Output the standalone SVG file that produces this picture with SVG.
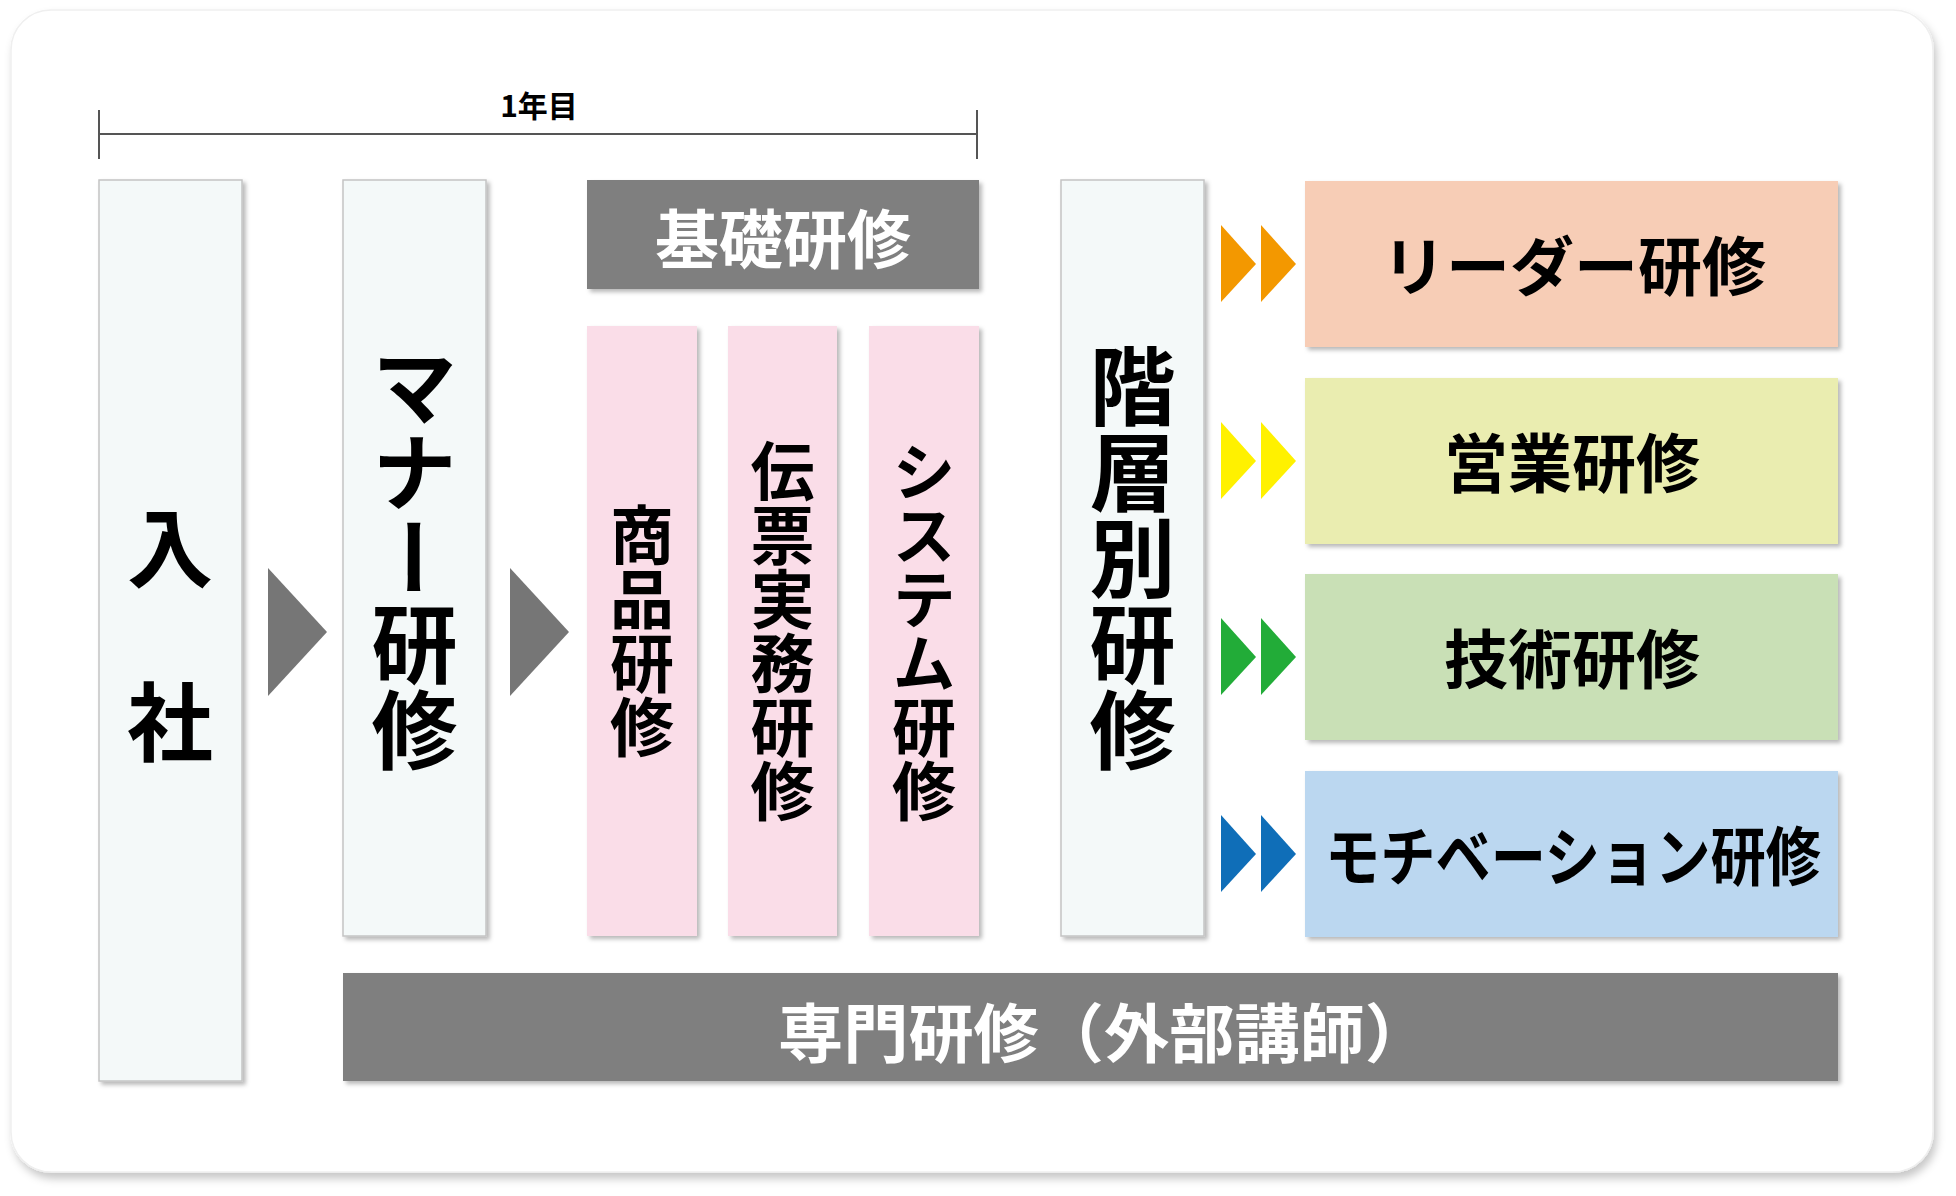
<svg xmlns="http://www.w3.org/2000/svg" width="1956" height="1196" viewBox="0 0 1956 1196">
  <defs>
    <filter id="cardShadow" x="-5%" y="-5%" width="110%" height="115%">
      <feDropShadow dx="3" dy="6" stdDeviation="4" flood-color="#000" flood-opacity="0.22"/>
    </filter>
    <filter id="boxShadow" x="-10%" y="-10%" width="125%" height="125%">
      <feDropShadow dx="3" dy="3" stdDeviation="2" flood-color="#000" flood-opacity="0.28"/>
    </filter>
    <style>
      .jp { font-family: "Noto Sans CJK JP", "Noto Sans", sans-serif; font-weight: bold; }
      .light { fill: #F4F9F9; stroke: #C4C4C4; stroke-width: 1.5; }
      .pink { fill: #FADDE8; }
      .gray { fill: #7F7F7F; }
      .vt { writing-mode: vertical-rl; text-orientation: mixed; text-anchor: middle; fill: #000; }
      .ht { text-anchor: middle; dominant-baseline: central; }
      .tick { stroke: #555; stroke-width: 2; fill: none; }
    </style>
  </defs>

  <rect x="0" y="0" width="1956" height="1196" fill="#FFFFFF"/>
  <!-- card -->
  <rect x="11" y="10" width="1922" height="1162" rx="40" ry="40" fill="#FFFFFF" stroke="#EFEFEF" stroke-width="1.5" filter="url(#cardShadow)"/>

  <!-- 1年目 span -->
  <g id="span-1year">
    <line class="tick" x1="99" y1="134" x2="977" y2="134"/>
    <line class="tick" x1="99" y1="110" x2="99" y2="159"/>
    <line class="tick" x1="977" y1="110" x2="977" y2="159"/>
    <text class="jp ht" x="539" y="104" font-size="30" fill="#000">1年目</text>
  </g>

  <g id="node-nyusha">
    <rect class="light" x="99" y="180" width="143" height="901" filter="url(#boxShadow)"/>
    <text class="jp ht" x="170" y="543" font-size="86" fill="#000">入</text>
    <text class="jp ht" x="170" y="717" font-size="86" fill="#000">社</text>
  </g>

  <g id="node-manner">
    <rect class="light" x="343" y="180" width="143" height="756" filter="url(#boxShadow)"/>
    <text class="jp vt" x="414.5" y="558" font-size="86">マナー研修</text>
  </g>

  <g id="node-kiso">
    <rect class="gray" x="587" y="180" width="392" height="109" filter="url(#boxShadow)"/>
    <text class="jp ht" x="783" y="235" font-size="64" fill="#FFFFFF">基礎研修</text>
  </g>

  <g id="node-shohin">
    <rect class="pink" x="587" y="326" width="110" height="610" filter="url(#boxShadow)"/>
    <text class="jp vt" x="642" y="631" font-size="64">商品研修</text>
  </g>
  <g id="node-denpyo">
    <rect class="pink" x="728" y="326" width="109" height="610" filter="url(#boxShadow)"/>
    <text class="jp vt" x="782.5" y="631" font-size="64">伝票実務研修</text>
  </g>
  <g id="node-system">
    <rect class="pink" x="869" y="326" width="110" height="610" filter="url(#boxShadow)"/>
    <text class="jp vt" x="924" y="631" font-size="64">システム研修</text>
  </g>

  <g id="node-kaisou">
    <rect class="light" x="1061" y="180" width="143" height="756" filter="url(#boxShadow)"/>
    <text class="jp vt" x="1132.5" y="558" font-size="86">階層別研修</text>
  </g>

  <g id="node-leader">
    <rect x="1305" y="181" width="533" height="166" fill="#F7CDB6" filter="url(#boxShadow)"/>
    <text class="jp ht" x="1574" y="262" font-size="64" fill="#000">リーダー研修</text>
  </g>
  <g id="node-eigyo">
    <rect x="1305" y="378" width="533" height="166" fill="#EAEDB0" filter="url(#boxShadow)"/>
    <text class="jp ht" x="1572" y="459" font-size="64" fill="#000">営業研修</text>
  </g>
  <g id="node-gijutsu">
    <rect x="1305" y="574" width="533" height="166" fill="#C9E0B6" filter="url(#boxShadow)"/>
    <text class="jp ht" x="1572" y="655" font-size="64" fill="#000">技術研修</text>
  </g>
  <g id="node-motivation">
    <rect x="1305" y="771" width="533" height="166" fill="#BBD7F0" filter="url(#boxShadow)"/>
    <text class="jp ht" x="1573" y="852" font-size="64" fill="#000" textLength="496" lengthAdjust="spacingAndGlyphs">モチベーション研修</text>
  </g>

  <g id="node-senmon">
    <rect class="gray" x="343" y="973" width="1495" height="108" filter="url(#boxShadow)"/>
    <text class="jp ht" x="1104" y="1029" font-size="64" fill="#FFFFFF" textLength="652" lengthAdjust="spacingAndGlyphs">専門研修（外部講師）</text>
  </g>

  <g id="connectors">
    <polygon points="268,568 327,632 268,696" fill="#767676"/>
    <polygon points="510,568 569,632 510,696" fill="#767676"/>
    <polygon points="1221,225 1256,264 1221,302" fill="#F39800"/>
    <polygon points="1261,225 1296,264 1261,302" fill="#F39800"/>
    <polygon points="1221,422 1256,461 1221,499" fill="#FFF100"/>
    <polygon points="1261,422 1296,461 1261,499" fill="#FFF100"/>
    <polygon points="1221,618 1256,657 1221,695" fill="#22AC38"/>
    <polygon points="1261,618 1296,657 1261,695" fill="#22AC38"/>
    <polygon points="1221,815 1256,854 1221,892" fill="#0F6EB8"/>
    <polygon points="1261,815 1296,854 1261,892" fill="#0F6EB8"/>
  </g>
</svg>
